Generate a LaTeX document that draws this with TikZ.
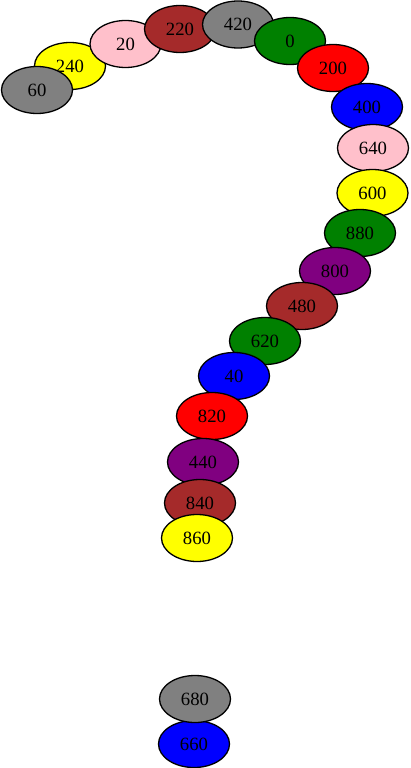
\documentclass[tikz,border=0pt]{standalone}
\usepackage{fontspec}
\setmainfont{Liberation Serif}
\usepackage{xcolor}
\usetikzlibrary{shapes.geometric}

\definecolor{cgray}{HTML}{808080}
\definecolor{cgreen}{HTML}{008000}
\definecolor{cred}{HTML}{FF0000}
\definecolor{cblue}{HTML}{0000FF}
\definecolor{cpink}{HTML}{FFC0CB}
\definecolor{cyellow}{HTML}{FFFF00}
\definecolor{cpurple}{HTML}{800080}
\definecolor{cbrown}{HTML}{A52A2A}

\tikzset{
  blob/.style={ellipse, draw=black, line width=1.3pt, inner sep=0pt,
    minimum width=71pt, minimum height=47pt,
    font=\fontsize{18.7}{20}\selectfont, text=black}
}

\begin{document}
\begin{tikzpicture}[x=1pt, y=-1pt]
\useasboundingbox (0,0) rectangle (410,768);

\node(n240)[blob, fill=cyellow] at (70,66){240};
\node(n60)[blob, fill=cgray] at (37,90){60};
\node(n20)[blob, fill=cpink] at (125.5,44){20};
\node(n220)[blob, fill=cbrown] at (180,29){220};
\node(n420)[blob, fill=cgray] at (238,24.5){420};
\node(n0)[blob, fill=cgreen] at (290,41){0};
\node(n200)[blob, fill=cred] at (333,68){200};
\node(n400)[blob, fill=cblue] at (367,107){400};
\node(n640)[blob, fill=cpink] at (373,148){640};
\node(n600)[blob, fill=cyellow] at (372.5,193){600};
\node(n880)[blob, fill=cgreen] at (360,233){880};
\node(n800)[blob, fill=cpurple] at (335,271){800};
\node(n480)[blob, fill=cbrown] at (302,306){480};
\node(n620)[blob, fill=cgreen] at (265,341){620};
\node(n40)[blob, fill=cblue] at (234,376){40};
\node(n820)[blob, fill=cred] at (212,416){820};
\node(n440)[blob, fill=cpurple] at (203,462){440};
\node(n840)[blob, fill=cbrown] at (200,503){840};
\node(n860)[blob, fill=cyellow] at (197,538){860};

\node(n660)[blob, fill=cblue] at (194,744){660};
\node(n680)[blob, fill=cgray] at (195,699){680};
\end{tikzpicture}
\end{document}
